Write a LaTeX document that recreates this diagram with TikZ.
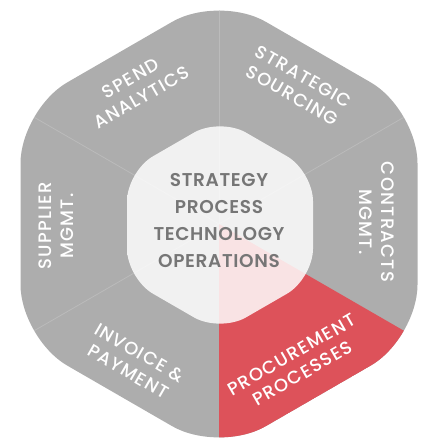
\documentclass[tikz,border=0pt]{standalone}
\usepackage{fontspec}
\setmainfont{Poppins}
\newfontfamily\labelfont[LetterSpace=7]{Poppins Medium}
\newfontfamily\corefont[LetterSpace=3.5]{Poppins SemiBold}
\definecolor{segGrey}{HTML}{ADADAD}
\definecolor{segRed}{HTML}{DD525A}
\definecolor{divLine}{HTML}{BBBBBB}
\definecolor{coreText}{HTML}{767676}
\begin{document}
\begin{tikzpicture}[x=1pt,y=-1pt,
  seglabel/.style={text=white, align=center, inner sep=0pt,
    font=\labelfont\fontsize{18}{22}\selectfont},
  corelabel/.style={text=coreText, align=center, inner sep=0pt,
    font=\corefont\fontsize{18.5}{27}\selectfont},
  divider/.style={divLine, line width=0.8pt}]
\useasboundingbox (0,0) rectangle (425,446);
% outer hexagon vertices
\coordinate (C) at (219,224);
\coordinate (vT) at (219,-5.2);
\coordinate (vUR) at (417.5,109.4);
\coordinate (vLR) at (417.5,338.6);
\coordinate (vB) at (219,453.2);
\coordinate (vLL) at (20.5,338.6);
\coordinate (vUL) at (20.5,109.4);
\fill[segGrey, rounded corners=54pt] (20.5,224) -- (vUL) -- (vT) -- (vUR) -- (vLR) -- (vB) -- (vLL) -- cycle;
\begin{scope}
  \clip[rounded corners=54pt] (20.5,224) -- (vUL) -- (vT) -- (vUR) -- (vLR) -- (vB) -- (vLL) -- cycle;
  \fill[segRed] (C) -- (vB) -- (vLR) -- cycle;
  \draw[divider] (C) -- (vT);
  \draw[divider] (C) -- (vUR);
  \draw[divider] (C) -- (vUL);
  \draw[divider] (C) -- (vLL);
\end{scope}
% inner hexagon
\fill[white, fill opacity=0.84, rounded corners=30pt]
  (127,225) -- (127,171.3) -- (220,117.6) -- (313,171.3) -- (313,278.7) -- (220,332.4) -- (127,278.7) -- cycle;
% labels
\node[corelabel] (core) at (219,221) {STRATEGY\\PROCESS\\TECHNOLOGY\\OPERATIONS};
\node[seglabel, rotate=30] (spend) at (136,88) {SPEND\\ANALYTICS};
\node[seglabel, rotate=-30] (sourcing) at (298,86) {STRATEGIC\\SOURCING};
\node[seglabel, rotate=-90] (contracts) at (377,222) {CONTRACTS\\MGMT.};
\node[seglabel, rotate=30] (procure) at (297,364) {PROCUREMENT\\PROCESSES};
\node[seglabel, rotate=-30] (invoice) at (134,362) {INVOICE \&\\PAYMENT};
\node[seglabel, rotate=90] (supplier) at (56,226) {SUPPLIER\\MGMT.};
\end{tikzpicture}
\end{document}
